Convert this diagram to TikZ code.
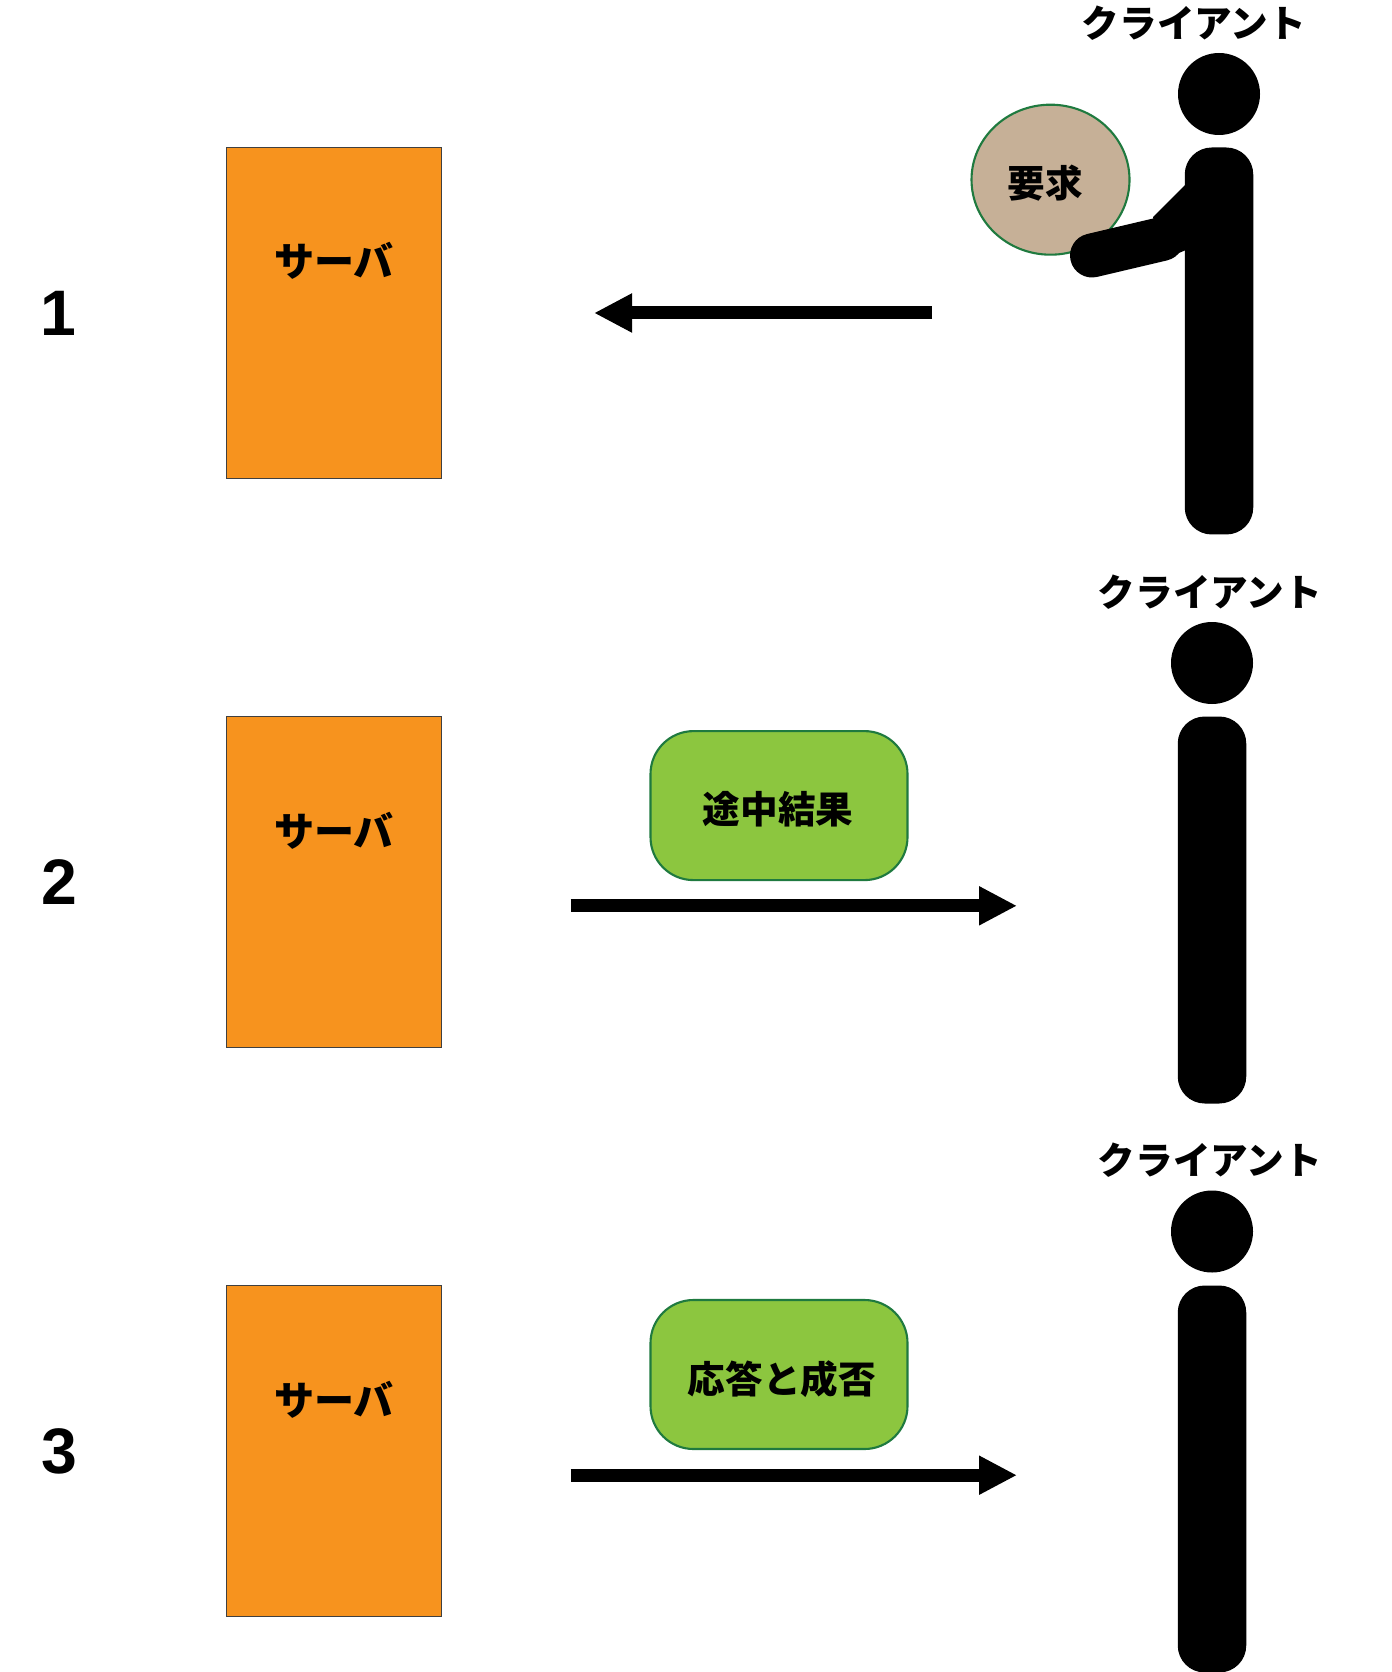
\documentclass[tikz,border=0pt]{standalone}
\usepackage{fontspec}
\setmainfont{Liberation Sans}
\newfontfamily\jpfont{Noto Sans CJK JP}
\usepackage{tikz}
\usetikzlibrary{arrows.meta}
\usetikzlibrary{shapes.geometric}
\definecolor{serverorange}{HTML}{F7931E}
\definecolor{msggreen}{HTML}{8CC63F}
\definecolor{msgedge}{HTML}{1F7A3F}
\definecolor{balltan}{HTML}{C6B097}
\begin{document}
\begin{tikzpicture}[
    server/.style={draw=black!75, line width=0.5pt, fill=serverorange, minimum width=2.15cm, minimum height=3.31cm, inner sep=0pt},
    head/.style={circle, fill=black, minimum size=0.82cm, inner sep=0pt},
    body/.style={rectangle, rounded corners=0.27cm, fill=black, minimum width=0.685cm, minimum height=3.87cm, inner sep=0pt},
    msg/.style={draw=msgedge, line width=0.6pt, fill=msggreen, rounded corners=0.43cm, minimum width=2.57cm, minimum height=1.49cm, inner sep=0pt},
    jptext/.style={font=\jpfont\bfseries\fontsize{10.7}{12}\selectfont, inner sep=0pt},
    srvtext/.style={font=\jpfont\bfseries\fontsize{11.4}{13}\selectfont, inner sep=0pt},
    stepnum/.style={font=\bfseries\fontsize{18.3}{20}\selectfont, inner sep=0pt},
    flow/.style={line width=0.13cm, -{Triangle[length=0.38cm,width=0.365cm]}}
]
    \useasboundingbox (0,0) rectangle (13.91,-16.72);

    % step 1
    \node[stepnum] (n1) at (0.585,-3.135) {1};
    \node[server] (s1) at (3.34,-3.13) {};
    \node[srvtext] (st1) at (3.34,-2.61) {サーバ};
    \coordinate (a1) at (9.32,-3.13);
    \coordinate (e1) at (5.94,-3.13);
    \draw[flow] (a1) to (e1);

    \node[jptext] (c1) at (11.94,-0.235) {クライアント};
    \node[head] (h1) at (12.19,-0.94) {};
    \node[body] (b1) at (12.19,-3.41) {};
    \node[ellipse, draw=msgedge, line width=0.6pt, fill=balltan, minimum width=1.58cm, minimum height=1.5cm, inner sep=0pt] (r1) at (10.505,-1.797) {};
    \node[jptext] (rt1) at (10.45,-1.835) {要求};
    \coordinate (hand) at (10.92,-2.555);
    \coordinate (elbow) at (11.62,-2.39);
    \draw[line width=0.44cm, line cap=round] (hand) to (elbow);
    \fill (11.86,-1.84) -- (11.53,-2.17) -- (11.62,-2.6) -- (11.86,-2.5) -- cycle;

    % step 2
    \node[stepnum] (n2) at (0.59,-8.82) {2};
    \node[server] (s2) at (3.34,-8.82) {};
    \node[srvtext] (st2) at (3.34,-8.31) {サーバ};
    \node[msg] (m2) at (7.79,-8.056) {};
    \node[jptext] (mt2) at (7.78,-8.09) {途中結果};
    \coordinate (a2) at (5.707,-9.058);
    \coordinate (e2) at (10.17,-9.058);
    \draw[flow] (a2) to (e2);

    \node[jptext] (c2) at (12.10,-5.92) {クライアント};
    \node[head] (h2) at (12.12,-6.63) {};
    \node[body] (b2) at (12.12,-9.10) {};

    % step 3
    \node[stepnum] (n3) at (0.59,-14.51) {3};
    \node[server] (s3) at (3.34,-14.51) {};
    \node[srvtext] (st3) at (3.34,-14.0) {サーバ};
    \node[msg] (m3) at (7.79,-13.745) {};
    \node[jptext] (mt3) at (7.82,-13.79) {応答と成否};
    \coordinate (a3) at (5.707,-14.752);
    \coordinate (e3) at (10.17,-14.752);
    \draw[flow] (a3) to (e3);

    \node[jptext] (c3) at (12.10,-11.6) {クライアント};
    \node[head] (h3) at (12.12,-12.315) {};
    \node[body] (b3) at (12.12,-14.79) {};
\end{tikzpicture}
\end{document}
